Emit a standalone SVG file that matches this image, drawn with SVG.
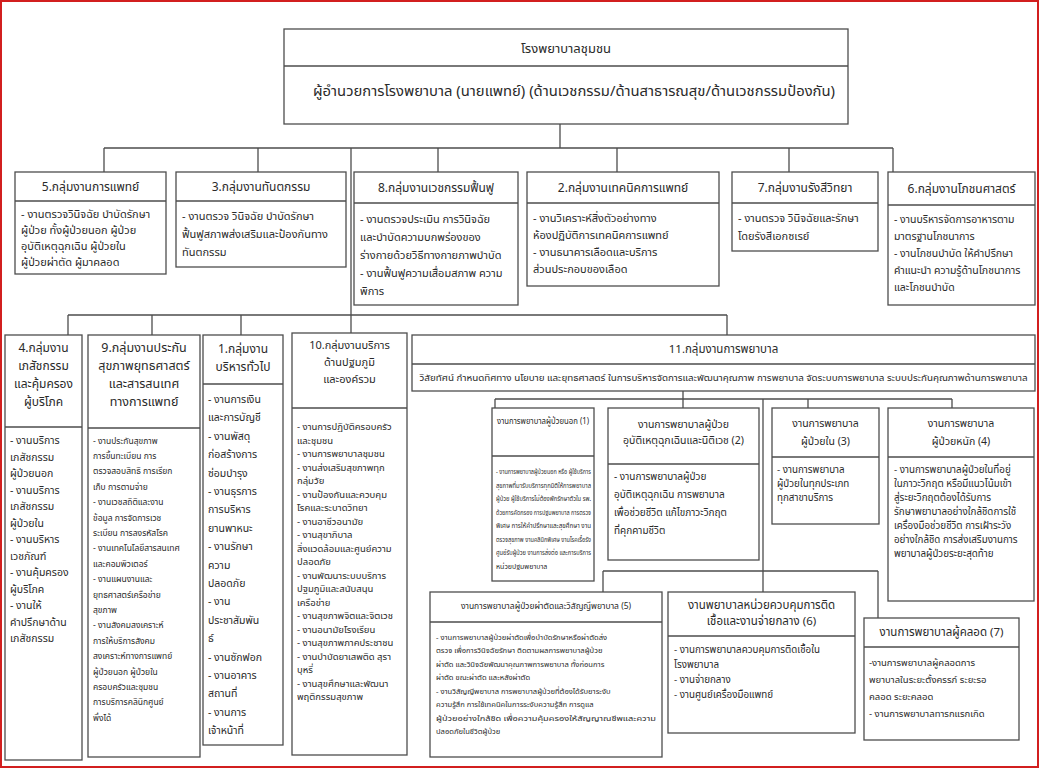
<svg xmlns="http://www.w3.org/2000/svg" width="1040" height="769" viewBox="0 0 1040 769">
<style>
text{font-family:'Noto Sans Thai','Noto Sans Thai UI','Loma','Garuda','Tahoma','Noto Sans',sans-serif;fill:#2a2a2a;dominant-baseline:central}
.c{text-anchor:middle}
.bx{fill:#fff;stroke:#4d4d4d;stroke-width:1.3}
.ln{stroke:#4d4d4d;stroke-width:1.3;fill:none}
.s14{font-size:14px}.s13{font-size:13px}.s125{font-size:12.5px}.s12{font-size:12px}.s115{font-size:11.5px}.s11{font-size:11px}.s105{font-size:10.5px}.s10{font-size:10px}.s98{font-size:9.8px}.s95{font-size:9.5px}.s85{font-size:8.5px}.s8{font-size:8px}.s76{font-size:7.6px}.s7{font-size:7px}
</style>
<rect x="1" y="1" width="1037" height="766" fill="#fff" stroke="#d21f1f" stroke-width="2"/>
<g id="connectors" class="ln">
<path d="M560 124V148M104 148H893M104 148V172M258 148V172M351 148V333M438 148V172M617 148V172M789 148V172M893 148V172"/>
<path d="M68 315H727M68 315V335M152 315V335M241 315V335M727 315V335"/>
<path d="M683 391V408M495 399H952M495 399V408M808 399V408M952 399V408"/>
<path d="M763 399V592M603 571H878M603 571V592M878 571V618"/>
</g>
<g id="n-top"><rect class="bx" x="284" y="29" width="564" height="95"/><line class="ln" x1="284" y1="66" x2="848" y2="66"/>
<text class="c s13" x="566" y="49">โรงพยาบาลชุมชน</text>
<text class="c s14" x="574" y="91" textLength="522" lengthAdjust="spacingAndGlyphs">ผู้อำนวยการโรงพยาบาล (นายแพทย์) (ด้านเวชกรรม/ด้านสาธารณสุข/ด้านเวชกรรมป้องกัน)</text></g>
<g id="n5"><rect class="bx" x="15" y="172" width="151" height="102"/><line class="ln" x1="15" y1="201" x2="166" y2="201"/>
<text class="c s12" x="90.5" y="187">5.กลุ่มงานการแพทย์</text>
<text class="s11" x="21" y="214">- งานตรวจวินิจฉัย บำบัดรักษา</text>
<text class="s11" x="21" y="230">ผู้ป่วย ทั้งผู้ป่วยนอก ผู้ป่วย</text>
<text class="s11" x="21" y="246">อุบัติเหตุฉุกเฉิน ผู้ป่วยใน</text>
<text class="s11" x="21" y="262">ผู้ป่วยผ่าตัด ผู้มาคลอด</text></g>
<g id="n3"><rect class="bx" x="176" y="172" width="170" height="95"/><line class="ln" x1="176" y1="201" x2="346" y2="201"/>
<text class="c s12" x="261" y="187">3.กลุ่มงานทันตกรรม</text>
<text class="s11" x="182" y="216">- งานตรวจ วินิจฉัย บำบัดรักษา</text>
<text class="s11" x="182" y="234">ฟื้นฟูสภาพส่งเสริมและป้องกันทาง</text>
<text class="s11" x="182" y="252">ทันตกรรม</text></g>
<g id="n8"><rect class="bx" x="354" y="172" width="164" height="133"/><line class="ln" x1="354" y1="203" x2="518" y2="203"/>
<text class="c s12" x="436" y="188">8.กลุ่มงานเวชกรรมฟื้นฟู</text>
<text class="s11" x="360" y="219">- งานตรวจประเมิน การวินิจฉัย</text>
<text class="s11" x="360" y="237">และบำบัดความบกพร่องของ</text>
<text class="s11" x="360" y="255">ร่างกายด้วยวิธีทางกายภาพบำบัด</text>
<text class="s11" x="360" y="273">- งานฟื้นฟูความเสื่อมสภาพ ความ</text>
<text class="s11" x="360" y="291">พิการ</text></g>
<g id="n2"><rect class="bx" x="527" y="172" width="192" height="114"/><line class="ln" x1="527" y1="203" x2="719" y2="203"/>
<text class="c s12" x="623" y="188">2.กลุ่มงานเทคนิคการแพทย์</text>
<text class="s11" x="533" y="218">- งานวิเคราะห์สิ่งตัวอย่างทาง</text>
<text class="s11" x="533" y="235">ห้องปฏิบัติการเทคนิคการแพทย์</text>
<text class="s11" x="533" y="252">- งานธนาคารเลือดและบริการ</text>
<text class="s11" x="533" y="269">ส่วนประกอบของเลือด</text></g>
<g id="n7"><rect class="bx" x="732" y="172" width="146" height="79"/><line class="ln" x1="732" y1="203" x2="878" y2="203"/>
<text class="c s12" x="805" y="188">7.กลุ่มงานรังสีวิทยา</text>
<text class="s11" x="738" y="218">- งานตรวจ วินิจฉัยและรักษา</text>
<text class="s11" x="738" y="236">โดยรังสีเอกซเรย์</text></g>
<g id="n6"><rect class="bx" x="888" y="172" width="147" height="133"/><line class="ln" x1="888" y1="205" x2="1035" y2="205"/>
<text class="c s12" x="961.5" y="189">6.กลุ่มงานโภชนศาสตร์</text>
<text class="s105" x="894" y="220">- งานบริหารจัดการอาหารตาม</text>
<text class="s105" x="894" y="237">มาตรฐานโภชนาการ</text>
<text class="s105" x="894" y="254">- งานโภชนบำบัด ให้คำปรึกษา</text>
<text class="s105" x="894" y="271">คำแนะนำ ความรู้ด้านโภชนาการ</text>
<text class="s105" x="894" y="288">และโภชนบำบัด</text></g>
<g id="n4"><rect class="bx" x="5" y="335" width="77" height="425"/><line class="ln" x1="5" y1="427" x2="82" y2="427"/>
<text class="c s12" x="43.5" y="348">4.กลุ่มงาน</text>
<text class="c s12" x="43.5" y="366">เภสัชกรรม</text>
<text class="c s12" x="43.5" y="384">และคุ้มครอง</text>
<text class="c s12" x="43.5" y="402">ผู้บริโภค</text>
<text class="s105" x="10" y="441">- งานบริการ</text>
<text class="s105" x="10" y="457.5">เภสัชกรรม</text>
<text class="s105" x="10" y="474">ผู้ป่วยนอก</text>
<text class="s105" x="10" y="490.5">- งานบริการ</text>
<text class="s105" x="10" y="507">เภสัชกรรม</text>
<text class="s105" x="10" y="523.5">ผู้ป่วยใน</text>
<text class="s105" x="10" y="540">- งานบริหาร</text>
<text class="s105" x="10" y="556.5">เวชภัณฑ์</text>
<text class="s105" x="10" y="573">- งานคุ้มครอง</text>
<text class="s105" x="10" y="589.5">ผู้บริโภค</text>
<text class="s105" x="10" y="606">- งานให้</text>
<text class="s105" x="10" y="622.5">คำปรึกษาด้าน</text>
<text class="s105" x="10" y="639">เภสัชกรรม</text></g>
<g id="n9"><rect class="bx" x="88" y="335" width="112" height="422"/><line class="ln" x1="88" y1="428" x2="200" y2="428"/>
<text class="c s125" x="144" y="348">9.กลุ่มงานประกัน</text>
<text class="c s125" x="144" y="366">สุขภาพยุทธศาสตร์</text>
<text class="c s125" x="144" y="384">และสารสนเทศ</text>
<text class="c s125" x="144" y="402">ทางการแพทย์</text>
<text class="s85" x="93" y="441">- งานประกันสุขภาพ</text>
<text class="s85" x="93" y="456.4">การขึ้นทะเบียน การ</text>
<text class="s85" x="93" y="471.8">ตรวจสอบสิทธิ การเรียก</text>
<text class="s85" x="93" y="487.2">เก็บ การตามจ่าย</text>
<text class="s85" x="93" y="502.6">- งานเวชสถิติและงาน</text>
<text class="s85" x="93" y="518">ข้อมูล การจัดการเวช</text>
<text class="s85" x="93" y="533.4">ระเบียน การลงรหัสโรค</text>
<text class="s85" x="93" y="548.8">- งานเทคโนโลยีสารสนเทศ</text>
<text class="s85" x="93" y="564.2">และคอมพิวเตอร์</text>
<text class="s85" x="93" y="579.6">- งานแผนงานและ</text>
<text class="s85" x="93" y="595">ยุทธศาสตร์เครือข่าย</text>
<text class="s85" x="93" y="610.4">สุขภาพ</text>
<text class="s85" x="93" y="625.8">- งานสังคมสงเคราะห์</text>
<text class="s85" x="93" y="641.2">การให้บริการสังคม</text>
<text class="s85" x="93" y="656.6">สงเคราะห์ทางการแพทย์</text>
<text class="s85" x="93" y="672">ผู้ป่วยนอก ผู้ป่วยใน</text>
<text class="s85" x="93" y="687.4">ครอบครัวและชุมชน</text>
<text class="s85" x="93" y="702.8">การบริการคลินิกศูนย์</text>
<text class="s85" x="93" y="718.2">พึ่งได้</text></g>
<g id="n1"><rect class="bx" x="203" y="335" width="80" height="410"/><line class="ln" x1="203" y1="384" x2="283" y2="384"/>
<text class="c s12" x="243" y="349">1.กลุ่มงาน</text>
<text class="c s12" x="243" y="367">บริหารทั่วไป</text>
<text class="s105" x="208" y="400">- งานการเงิน</text>
<text class="s105" x="208" y="418.4">และการบัญชี</text>
<text class="s105" x="208" y="436.8">- งานพัสดุ</text>
<text class="s105" x="208" y="455.2">ก่อสร้างการ</text>
<text class="s105" x="208" y="473.6">ซ่อมบำรุง</text>
<text class="s105" x="208" y="492">- งานธุรการ</text>
<text class="s105" x="208" y="510.4">การบริหาร</text>
<text class="s105" x="208" y="528.8">ยานพาหนะ</text>
<text class="s105" x="208" y="547.2">- งานรักษา</text>
<text class="s105" x="208" y="565.6">ความ</text>
<text class="s105" x="208" y="584">ปลอดภัย</text>
<text class="s105" x="208" y="602.4">- งาน</text>
<text class="s105" x="208" y="620.8">ประชาสัมพัน</text>
<text class="s105" x="208" y="639.2">ธ์</text>
<text class="s105" x="208" y="657.6">- งานซักฟอก</text>
<text class="s105" x="208" y="676">- งานอาคาร</text>
<text class="s105" x="208" y="694.4">สถานที่</text>
<text class="s105" x="208" y="712.8">- งานการ</text>
<text class="s105" x="208" y="731.2">เจ้าหน้าที่</text></g>
<g id="n10"><rect class="bx" x="292" y="333" width="115" height="422"/><line class="ln" x1="292" y1="408" x2="407" y2="408"/>
<text class="c s11" x="349.5" y="345">10.กลุ่มงานบริการ</text>
<text class="c s11" x="349.5" y="362">ด้านปฐมภูมิ</text>
<text class="c s11" x="349.5" y="379">และองค์รวม</text>
<text class="s95" x="297" y="427">- งานการปฏิบัติครอบครัว</text>
<text class="s95" x="297" y="440.5">และชุมชน</text>
<text class="s95" x="297" y="454">- งานการพยาบาลชุมชน</text>
<text class="s95" x="297" y="467.5">- งานส่งเสริมสุขภาพทุก</text>
<text class="s95" x="297" y="481">กลุ่มวัย</text>
<text class="s95" x="297" y="494.5">- งานป้องกันและควบคุม</text>
<text class="s95" x="297" y="508">โรคและระบาดวิทยา</text>
<text class="s95" x="297" y="521.5">- งานอาชีวอนามัย</text>
<text class="s95" x="297" y="535">- งานสุขาภิบาล</text>
<text class="s95" x="297" y="548.5">สิ่งแวดล้อมและศูนย์ความ</text>
<text class="s95" x="297" y="562">ปลอดภัย</text>
<text class="s95" x="297" y="575.5">- งานพัฒนาระบบบริการ</text>
<text class="s95" x="297" y="589">ปฐมภูมิและสนับสนุน</text>
<text class="s95" x="297" y="602.5">เครือข่าย</text>
<text class="s95" x="297" y="616">- งานสุขภาพจิตและจิตเวช</text>
<text class="s95" x="297" y="629.5">- งานอนามัยโรงเรียน</text>
<text class="s95" x="297" y="643">- งานสุขภาพภาคประชาชน</text>
<text class="s95" x="297" y="656.5">- งานบำบัดยาเสพติด สุรา</text>
<text class="s95" x="297" y="670">บุหรี่</text>
<text class="s95" x="297" y="683.5">- งานสุขศึกษาและพัฒนา</text>
<text class="s95" x="297" y="697">พฤติกรรมสุขภาพ</text></g>
<g id="n11"><rect class="bx" x="412" y="335" width="623" height="56"/><line class="ln" x1="412" y1="364" x2="1035" y2="364"/>
<text class="c s115" x="723.5" y="349">11.กลุ่มงานการพยาบาล</text>
<text class="c s85" x="723.5" y="378" textLength="608" lengthAdjust="spacingAndGlyphs">วิสัยทัศน์ กำหนดทิศทาง นโยบาย และยุทธศาสตร์ ในการบริหารจัดการและพัฒนาคุณภาพ การพยาบาล จัดระบบการพยาบาล ระบบประกันคุณภาพด้านการพยาบาล</text></g>
<g id="n11-1"><rect class="bx" x="492" y="408" width="102" height="173"/><line class="ln" x1="492" y1="456" x2="594" y2="456"/>
<text class="c s95" x="543" y="421" textLength="92" lengthAdjust="spacingAndGlyphs">งานการพยาบาลผู้ป่วยนอก (1)</text>
<text class="s7" x="496" y="472" textLength="95" lengthAdjust="spacingAndGlyphs">- งานการพยาบาลผู้ป่วยนอก หรือ ผู้ใช้บริการ</text>
<text class="s7" x="496" y="485.5" textLength="95" lengthAdjust="spacingAndGlyphs">สุขภาพที่มารับบริการทุกมิติให้การพยาบาล</text>
<text class="s7" x="496" y="499" textLength="95" lengthAdjust="spacingAndGlyphs">ผู้ป่วย ผู้ใช้บริการไม่ต้องพักรักษาตัวใน รพ.</text>
<text class="s7" x="496" y="512.5" textLength="95" lengthAdjust="spacingAndGlyphs">ด้วยการคัดกรอง การปฐมพยาบาล การตรวจ</text>
<text class="s7" x="496" y="526" textLength="95" lengthAdjust="spacingAndGlyphs">พิเศษ การให้คำปรึกษาและสุขศึกษา งาน</text>
<text class="s7" x="496" y="539.5" textLength="95" lengthAdjust="spacingAndGlyphs">ตรวจสุขภาพ งานคลินิกพิเศษ งานโรคเรื้อรัง</text>
<text class="s7" x="496" y="553" textLength="95" lengthAdjust="spacingAndGlyphs">ศูนย์รับผู้ป่วย งานการส่งต่อ และการบริการ</text>
<text class="s7" x="496" y="566.5">หน่วยปฐมพยาบาล</text></g>
<g id="n11-2"><rect class="bx" x="608" y="408" width="151" height="152"/><line class="ln" x1="608" y1="464" x2="759" y2="464"/>
<text class="c s105" x="683.5" y="425">งานการพยาบาลผู้ป่วย</text>
<text class="c s105" x="683.5" y="441">อุบัติเหตุฉุกเฉินและนิติเวช (2)</text>
<text class="s10" x="614" y="477">- งานการพยาบาลผู้ป่วย</text>
<text class="s10" x="614" y="495">อุบัติเหตุฉุกเฉิน การพยาบาล</text>
<text class="s10" x="614" y="513">เพื่อช่วยชีวิต แก้ไขภาวะวิกฤต</text>
<text class="s10" x="614" y="531">ที่คุกคามชีวิต</text></g>
<g id="n11-3"><rect class="bx" x="772" y="408" width="107" height="116"/><line class="ln" x1="772" y1="457" x2="879" y2="457"/>
<text class="c s105" x="825.5" y="424">งานการพยาบาล</text>
<text class="c s105" x="825.5" y="442">ผู้ป่วยใน (3)</text>
<text class="s98" x="777" y="470">- งานการพยาบาล</text>
<text class="s98" x="777" y="484">ผู้ป่วยในทุกประเภท</text>
<text class="s98" x="777" y="498">ทุกสาขาบริการ</text></g>
<g id="n11-4"><rect class="bx" x="888" y="408" width="146" height="193"/><line class="ln" x1="888" y1="457" x2="1034" y2="457"/>
<text class="c s105" x="961" y="424">งานการพยาบาล</text>
<text class="c s105" x="961" y="442">ผู้ป่วยหนัก (4)</text>
<text class="s98" x="894" y="470">- งานการพยาบาลผู้ป่วยในที่อยู่</text>
<text class="s98" x="894" y="484">ในภาวะวิกฤต หรือมีแนวโน้มเข้า</text>
<text class="s98" x="894" y="498">สู่ระยะวิกฤตต้องได้รับการ</text>
<text class="s98" x="894" y="512">รักษาพยาบาลอย่างใกล้ชิดการใช้</text>
<text class="s98" x="894" y="526">เครื่องมือช่วยชีวิต การเฝ้าระวัง</text>
<text class="s98" x="894" y="540">อย่างใกล้ชิด การส่งเสริมงานการ</text>
<text class="s98" x="894" y="554">พยาบาลผู้ป่วยระยะสุดท้าย</text></g>
<g id="n11-5"><rect class="bx" x="430" y="592" width="232" height="165"/><line class="ln" x1="430" y1="622" x2="662" y2="622"/>
<text class="c s85" x="546" y="606">งานการพยาบาลผู้ป่วยผ่าตัดและวิสัญญีพยาบาล (5)</text>
<text class="s76" x="436" y="637">- งานการพยาบาลผู้ป่วยผ่าตัดเพื่อบำบัดรักษาหรือผ่าตัดส่ง</text>
<text class="s76" x="436" y="650.5">ตรวจ เพื่อการวินิจฉัยรักษา ติดตามผลการพยาบาลผู้ป่วย</text>
<text class="s76" x="436" y="664">ผ่าตัด และวินิจฉัยพัฒนาคุณภาพการพยาบาล ทั้งก่อนการ</text>
<text class="s76" x="436" y="677.5">ผ่าตัด ขณะผ่าตัด และหลังผ่าตัด</text>
<text class="s76" x="436" y="691">- งานวิสัญญีพยาบาล การพยาบาลผู้ป่วยที่ต้องได้รับยาระงับ</text>
<text class="s76" x="436" y="704.5">ความรู้สึก การใช้เทคนิคในการระงับความรู้สึก การดูแล</text>
<text class="s76" x="436" y="718" textLength="220" lengthAdjust="spacingAndGlyphs">ผู้ป่วยอย่างใกล้ชิด เพื่อความคุ้มครองให้สัญญาณชีพและความ</text>
<text class="s76" x="436" y="731.5">ปลอดภัยในชีวิตผู้ป่วย</text></g>
<g id="n11-6"><rect class="bx" x="668" y="592" width="187" height="141"/><line class="ln" x1="668" y1="636" x2="855" y2="636"/>
<text class="c s115" x="761.5" y="605">งานพยาบาลหน่วยควบคุมการติด</text>
<text class="c s115" x="761.5" y="621">เชื้อและงานจ่ายกลาง (6)</text>
<text class="s98" x="674" y="650">- งานการพยาบาลควบคุมการติดเชื้อใน</text>
<text class="s98" x="674" y="665">โรงพยาบาล</text>
<text class="s98" x="674" y="680">- งานจ่ายกลาง</text>
<text class="s98" x="674" y="695">- งานศูนย์เครื่องมือแพทย์</text></g>
<g id="n11-7"><rect class="bx" x="864" y="618" width="155" height="122"/><line class="ln" x1="864" y1="647" x2="1019" y2="647"/>
<text class="c s115" x="941.5" y="632">งานการพยาบาลผู้คลอด (7)</text>
<text class="s95" x="869" y="663">-งานการพยาบาลผู้คลอดการ</text>
<text class="s95" x="869" y="680">พยาบาลในระยะตั้งครรภ์ ระยะรอ</text>
<text class="s95" x="869" y="697">คลอด ระยะคลอด</text>
<text class="s95" x="869" y="714">- งานการพยาบาลทารกแรกเกิด</text></g>
</svg>
